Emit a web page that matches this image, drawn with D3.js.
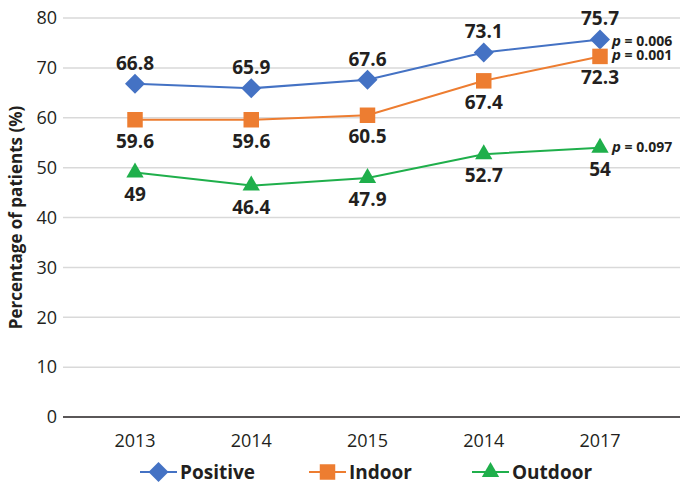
<!DOCTYPE html>
<html>
<head>
<meta charset="utf-8">
<script src="https://cdn.jsdelivr.net/npm/d3@7"></script>
<style>
body { margin: 0; background: #fff; }
text { font-family: "Open Sans", "DejaVu Sans", sans-serif; }
</style>
</head>
<body>
<svg id="chart"></svg>
<script>
var width = 681;
var height = 485;

var years = ["2013", "2014", "2015", "2014", "2017"];
var positive = [66.8, 65.9, 67.6, 73.1, 75.7];
var indoor = [59.6, 59.6, 60.5, 67.4, 72.3];
var outdoor = [49, 46.4, 47.9, 52.7, 54];
var yTicks = [0, 10, 20, 30, 40, 50, 60, 70, 80];
var pValues = ["0.006", "0.001", "0.097"];

// diamond = square turned 45 degrees
var series = [
	{name: "Positive", values: positive, color: "#4472C4", symbol: d3.symbolSquare, size: 200, rotate: 45, labelAbove: true},
	{name: "Indoor", values: indoor, color: "#ED7D31", symbol: d3.symbolSquare, size: 240, rotate: 0, labelAbove: false},
	{name: "Outdoor", values: outdoor, color: "#1FAF4B", symbol: d3.symbolTriangle, size: 130, rotate: 0, labelAbove: false}
];

var svg = d3.select("#chart")
.attr("width", width)
.attr("height", height);

var plotLeft = 63, plotRight = 680;

var x = d3.scalePoint()
.domain(d3.range(years.length))
.range([135, 600]);

var y = d3.scaleLinear()
.domain([0, 80])
.range([417, 18]);

// gridlines
svg.append("g")
.selectAll("line")
.data(yTicks.slice(1))
.enter()
.append("line")
.attr("x1", plotLeft)
.attr("x2", plotRight)
.attr("y1", function (d) { return y(d); })
.attr("y2", function (d) { return y(d); })
.style("stroke", "#d9d9d9")
.style("stroke-width", 1.5);

// y tick labels
svg.append("g")
.selectAll("text")
.data(yTicks)
.enter()
.append("text")
.attr("x", 57)
.attr("y", function (d) { return y(d); })
.attr("dy", "0.35em")
.style("text-anchor", "end")
.style("font-size", "18px")
.style("fill", "#231f20")
.text(function (d) { return d; });

// x axis line
svg.append("line")
.attr("x1", plotLeft)
.attr("x2", plotRight)
.attr("y1", y(0))
.attr("y2", y(0))
.style("stroke", "#231f20")
.style("stroke-width", 1.5);

// x tick labels
svg.append("g")
.selectAll("text")
.data(years)
.enter()
.append("text")
.attr("x", function (d, i) { return x(i); })
.attr("y", 447)
.style("text-anchor", "middle")
.style("font-size", "18px")
.style("fill", "#231f20")
.text(function (d) { return d; });

// y axis title
svg.append("text")
.attr("transform", "translate(16," + y(40) + ") rotate(-90)")
.attr("dy", "0.35em")
.style("text-anchor", "middle")
.style("font-size", "17px")
.style("font-weight", "bold")
.style("fill", "#231f20")
.text("Percentage of patients (%)");

var line = d3.line()
.x(function (d, i) { return x(i); })
.y(function (d) { return y(d); });

function marker(s) {
	return d3.symbol().type(s.symbol).size(s.size)();
}

series.forEach(function (s) {
	var g = svg.append("g");

	g.append("path")
	.datum(s.values)
	.attr("d", line)
	.style("fill", "none")
	.style("stroke", s.color)
	.style("stroke-width", 2);

	g.selectAll("path.mark")
	.data(s.values)
	.enter()
	.append("path")
	.attr("class", "mark")
	.attr("d", marker(s))
	.attr("transform", function (d, i) {
		return "translate(" + x(i) + "," + y(d) + ") rotate(" + s.rotate + ")";
	})
	.style("fill", s.color);

	g.selectAll("text")
	.data(s.values)
	.enter()
	.append("text")
	.attr("x", function (d, i) { return x(i); })
	.attr("y", function (d) { return s.labelAbove ? y(d) - 14 : y(d) + 28; })
	.style("text-anchor", "middle")
	.style("font-size", "19px")
	.style("font-weight", "bold")
	.style("fill", "#231f20")
	.text(function (d) { return d; });
});

// p values next to last points
var last = years.length - 1;
var pOffsets = [1.5, -1.5, -1];
series.forEach(function (s, k) {
	var t = svg.append("text")
	.attr("x", x(last) + 12)
	.attr("y", y(s.values[last]) + pOffsets[k])
	.attr("dy", "0.35em")
	.style("font-size", "14px")
	.style("font-weight", "bold")
	.style("fill", "#231f20");
	t.append("tspan").style("font-style", "italic").style("font-size", "15px").text("p");
	t.append("tspan").text(" = " + pValues[k]);
});

// legend
var legendX = [140, 309, 472];
series.forEach(function (s, k) {
	var lg = svg.append("g")
	.attr("transform", "translate(" + legendX[k] + ",472)");

	lg.append("line")
	.attr("x1", 0)
	.attr("x2", 37)
	.style("stroke", s.color)
	.style("stroke-width", 2);

	lg.append("path")
	.attr("d", marker(s))
	.attr("transform", "translate(18.5,0) rotate(" + s.rotate + ")")
	.style("fill", s.color);

	lg.append("text")
	.attr("x", 40)
	.attr("dy", "0.35em")
	.style("font-size", "19px")
	.style("font-weight", "bold")
	.style("fill", "#231f20")
	.text(s.name);
});
</script>
</body>
</html>
